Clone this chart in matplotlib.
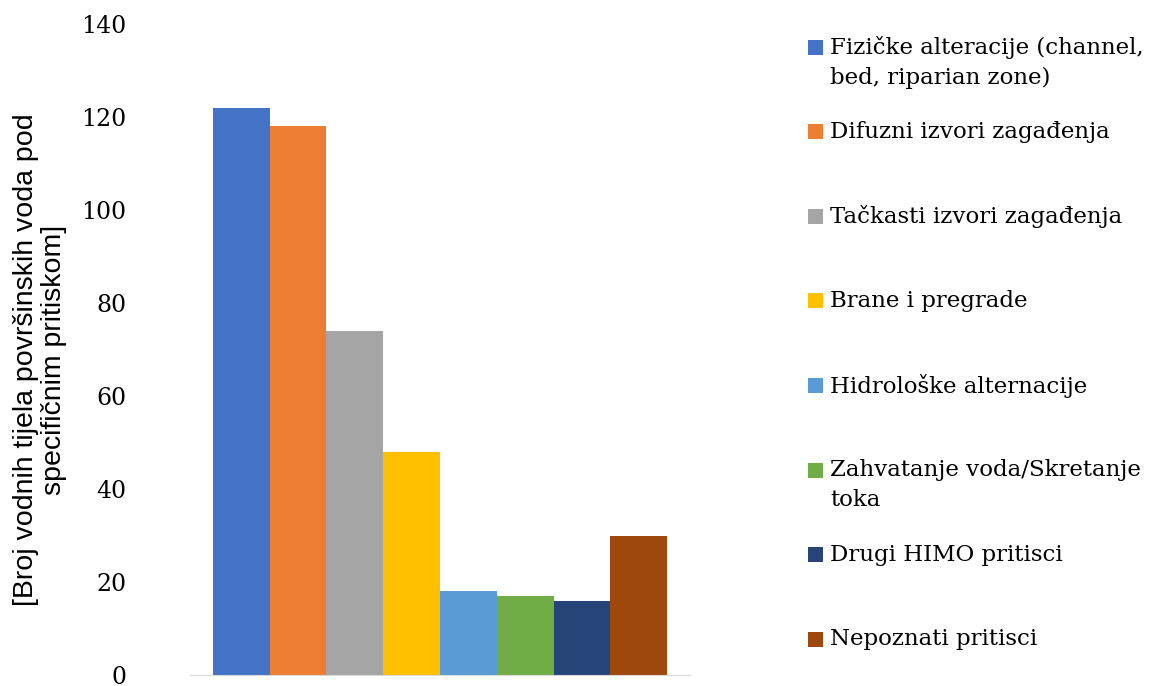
import matplotlib.pyplot as plt
from matplotlib.patches import Rectangle

# Podaci
kategorije = [
    "Fizičke alteracije (channel,\nbed, riparian zone)",
    "Difuzni izvori zagađenja",
    "Tačkasti izvori zagađenja",
    "Brane i pregrade",
    "Hidrološke alternacije",
    "Zahvatanje voda/Skretanje\ntoka",
    "Drugi HIMO pritisci",
    "Nepoznati pritisci",
]
vrijednosti = [122, 118, 74, 48, 18, 17, 16, 30]
boje = ["#4472C4", "#ED7D31", "#A5A5A5", "#FFC000",
        "#5B9BD5", "#70AD47", "#264478", "#9E480E"]
y_ticks = [0, 20, 40, 60, 80, 100, 120, 140]

W, H = 1158, 686
fig = plt.figure(figsize=(W / 100, H / 100), dpi=100)

# osa u pikselima: x 190..690, y 24..675
ax = fig.add_axes([190 / W, (H - 675) / H, 500 / W, (675 - 24) / H])

pozicije = list(range(len(vrijednosti)))
ax.bar(pozicije, vrijednosti, width=1.0, color=boje, edgecolor="none")

ax.set_xlim(-0.905, 7.905)
ax.set_ylim(0, 140)
ax.set_yticks(y_ticks)
ax.set_yticklabels([str(t) for t in y_ticks], family="DejaVu Serif", fontsize=17)
ax.tick_params(axis="y", length=0, pad=46)
ax.set_xticks([])

for s in ["top", "right", "left"]:
    ax.spines[s].set_visible(False)
ax.spines["bottom"].set_color("#D9D9D9")
ax.spines["bottom"].set_linewidth(0.8)

fig.text(40 / W, (H - 360) / H,
         "[Broj vodnih tijela površinskih voda pod\nspecifičnim pritiskom]",
         family="Liberation Sans", fontsize=20.5, rotation=90,
         ha="center", va="center", linespacing=1.1)

# Legenda (ručno, jednak razmak kao u Excelu)
for i, (naziv, boja) in enumerate(zip(kategorije, boje)):
    y_pix = 47 + i * 84.6
    fig.patches.append(Rectangle((808 / W, (H - y_pix - 7.5) / H), 15 / W, 15 / H,
                                 transform=fig.transFigure, facecolor=boja,
                                 edgecolor="none"))
    fig.text(830 / W, (H - y_pix + 11) / H, naziv, family="DejaVu Serif",
             fontsize=16.5, va="top", ha="left", linespacing=1.45)

fig.savefig("out.png", dpi=100)
